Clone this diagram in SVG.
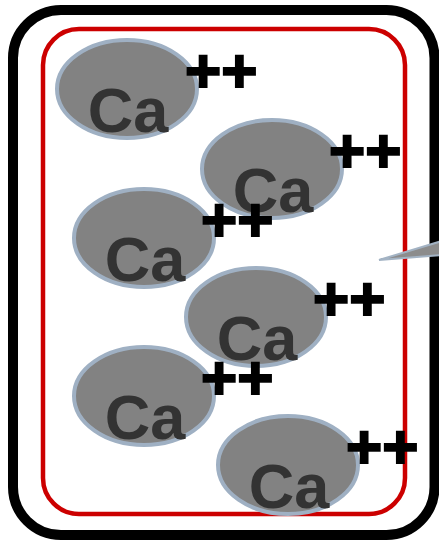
<svg xmlns="http://www.w3.org/2000/svg" width="439" height="540" viewBox="0 0 439 540">
  <style>
    .cell { fill: #ffffff; stroke: #000000; stroke-width: 10; }
    .membrane { fill: none; stroke: #cc0000; stroke-width: 4.5; }
    .ion ellipse { fill: #828282; stroke: #9fb0c3; stroke-width: 4; }
    .sym { font-family: "Liberation Sans", Arial, sans-serif; font-weight: bold; font-size: 63px; fill: #333333; text-anchor: middle; }
    .chg { font-family: "Liberation Sans", Arial, sans-serif; font-weight: bold; font-size: 62px; fill: #000000; stroke: #000000; stroke-width: 2; }
    .pointer { fill: #8c8c8c; stroke: #a3b3c4; stroke-width: 2; stroke-linejoin: miter; }
  </style>

  <!-- outer cell wall and inner membrane -->
  <g id="cell">
    <rect class="cell" x="13" y="10" width="421.5" height="525" rx="48" ry="48"/>
  </g>
  <g id="membrane">
    <rect class="membrane" x="43" y="29" width="362" height="485" rx="36" ry="36"/>
  </g>

  <!-- calcium ions: shell, symbol, charge -->
  <g id="ion1" class="ion">
    <ellipse cx="127" cy="89" rx="70" ry="49"/>
    <text class="sym" x="128" y="132">Ca</text>
    <text class="chg" x="185" y="92">++</text>
  </g>
  <g id="ion2" class="ion">
    <ellipse cx="272" cy="169" rx="70" ry="49"/>
    <text class="sym" x="273" y="212">Ca</text>
    <text class="chg" x="329" y="172">++</text>
  </g>
  <g id="ion3" class="ion">
    <ellipse cx="144" cy="238" rx="70" ry="49"/>
    <text class="sym" x="145" y="281">Ca</text>
    <text class="chg" x="201" y="241">++</text>
  </g>
  <g id="ion4" class="ion">
    <ellipse cx="256" cy="317" rx="70" ry="49"/>
    <text class="sym" x="257" y="360">Ca</text>
    <text class="chg" x="313" y="320">++</text>
  </g>
  <g id="ion5" class="ion">
    <ellipse cx="144" cy="396" rx="70" ry="49"/>
    <text class="sym" x="145" y="439">Ca</text>
    <text class="chg" x="201" y="399">++</text>
  </g>
  <g id="ion6" class="ion">
    <ellipse cx="288" cy="465" rx="70" ry="49"/>
    <text class="sym" x="289" y="508">Ca</text>
    <text class="chg" x="346" y="468">++</text>
  </g>

  <!-- callout pointer entering from the right -->
  <g id="connectors">
    <polygon class="pointer" points="379,260 442,241 442,255"/>
  </g>
</svg>
